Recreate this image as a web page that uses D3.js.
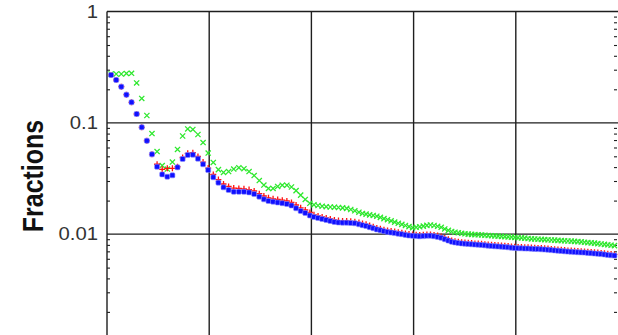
<!DOCTYPE html>
<html>
<head>
<meta charset="utf-8">
<script src="https://cdn.jsdelivr.net/npm/d3@7"></script>
<style>
  body { margin: 0; background: #fff; }
  svg { display: block; }
</style>
</head>
<body>
<svg width="618" height="335" id="mainsvg"></svg>
<script>
// sample positions (shared by all three series)
const xs = [
  0.8, 1.8, 2.8, 3.8, 4.8, 5.8, 6.8, 7.8, 8.8, 9.8, 10.8, 11.8, 12.8, 13.8, 14.8,
  15.8, 16.8, 17.8, 18.8, 19.8, 20.8, 21.8, 22.8, 23.8, 24.8, 25.8, 26.8, 27.8, 28.8, 29.8,
  30.7, 31.6, 32.5, 33.4, 34.3, 35.2, 36.1, 37.0, 37.9, 38.8, 39.7,
  40.5, 41.3, 42.1, 42.9, 43.7, 44.5, 45.3, 46.1, 46.9, 47.7, 48.5, 49.3,
  50.0, 50.7, 51.4, 52.1, 52.8, 53.5, 54.2, 54.9, 55.6, 56.3, 57.0, 57.7, 58.4,
  59.1, 59.8, 60.5, 61.2, 61.9, 62.6, 63.3, 64.0, 64.7, 65.4, 66.1, 66.8,
  67.45, 68.1, 68.75, 69.4, 70.05, 70.7, 71.35, 72.0, 72.65, 73.3, 73.95, 74.6,
  75.25, 75.9, 76.55, 77.2, 77.85, 78.5, 79.15, 79.8, 80.45, 81.1, 81.75, 82.4,
  83.05, 83.7, 84.35, 85.0, 85.65, 86.3, 86.95, 87.6, 88.25, 88.9, 89.55, 90.2,
  90.85, 91.5, 92.15, 92.8, 93.45, 94.1, 94.75, 95.4, 96.05, 96.7, 97.35, 98.0, 98.65, 99.3
];

const greenVals = [
  0.2745, 0.2745, 0.2745, 0.2774, 0.2786, 0.2279, 0.1654, 0.1163, 0.0801, 0.0552,
  0.0413, 0.0384, 0.0444, 0.0576, 0.0761, 0.0880, 0.0871, 0.0785, 0.0665, 0.0535,
  0.0440, 0.0380, 0.0358, 0.0365, 0.0384, 0.0395, 0.0387, 0.0365, 0.0336, 0.0303,
  0.0276, 0.0257, 0.0257, 0.0268, 0.0275, 0.0275, 0.0265, 0.0246, 0.0224, 0.02047, 0.01892,
  0.01834, 0.01807, 0.01781, 0.01763, 0.01752, 0.01745, 0.01734, 0.01720, 0.01702, 0.01664, 0.01620, 0.01573,
  0.01532, 0.01510, 0.01488, 0.01470, 0.01448, 0.01413, 0.01378, 0.01347, 0.01314, 0.01282,
  0.01251, 0.01223, 0.01195, 0.01168, 0.01144, 0.01151, 0.01163, 0.01180, 0.01198, 0.01207,
  0.01195, 0.01175, 0.01151, 0.01112, 0.01080,
  0.01055, 0.01040, 0.01027, 0.01017, 0.01006, 0.01000, 0.00994, 0.00990, 0.00986, 0.00982,
  0.00977, 0.00971, 0.00967, 0.00963, 0.00959, 0.00955, 0.00950, 0.00944, 0.00940, 0.00934,
  0.00928, 0.00924, 0.00919, 0.00913, 0.00907, 0.00904, 0.00900, 0.00896, 0.00892, 0.00889,
  0.00885, 0.00882, 0.00878, 0.00874, 0.00871, 0.00867, 0.00864, 0.00860, 0.00856, 0.00851,
  0.00844, 0.00839, 0.00834, 0.00829, 0.00822, 0.00815, 0.00808, 0.00802, 0.00795, 0.00788
];

const redVals = [
  0.2689, 0.2425, 0.2111, 0.1789, 0.1528, 0.1200, 0.0911, 0.0690, 0.0521, 0.0424,
  0.0382, 0.0390, 0.0390, 0.0403, 0.0488, 0.0532, 0.0539, 0.0498, 0.0444, 0.0392,
  0.0343, 0.0309, 0.0282, 0.0268, 0.0259, 0.0257, 0.0255, 0.0251, 0.0244, 0.0231,
  0.0220, 0.02120, 0.02076, 0.02047, 0.02017, 0.01984, 0.01923, 0.01826, 0.01723, 0.01647, 0.01564,
  0.01491, 0.01454, 0.01425, 0.01395, 0.01367, 0.01339, 0.01322, 0.01314, 0.01311, 0.01303, 0.01293, 0.01269,
  0.01243, 0.01223, 0.01193, 0.01163, 0.01137, 0.01116, 0.01095, 0.01080, 0.01064, 0.01053,
  0.01040, 0.01029, 0.01015, 0.01002, 0.00994, 0.00988, 0.00984, 0.00986, 0.00992, 0.00994,
  0.00984, 0.00969, 0.00952, 0.00924, 0.00898,
  0.00874, 0.00862, 0.00853, 0.00846, 0.00841, 0.00836, 0.00830, 0.00825, 0.00822, 0.00818,
  0.00812, 0.00807, 0.00802, 0.00797, 0.00793, 0.00790, 0.00785, 0.00780, 0.00774, 0.00769,
  0.00766, 0.00764, 0.00761, 0.00760, 0.00757, 0.00755, 0.00752, 0.00749, 0.00745, 0.00741,
  0.00736, 0.00731, 0.00727, 0.00723, 0.00718, 0.00714, 0.00711, 0.00708, 0.00705, 0.00702,
  0.00699, 0.00694, 0.00690, 0.00686, 0.00682, 0.00678, 0.00672, 0.00667, 0.00661, 0.00657
];

const blueVals = [
  0.2689, 0.2425, 0.2111, 0.1789, 0.1528, 0.1200, 0.0911, 0.0690, 0.0521, 0.0403,
  0.0344, 0.0328, 0.0337, 0.0398, 0.0473, 0.0514, 0.0517, 0.0476, 0.0424, 0.0376,
  0.0324, 0.0290, 0.0263, 0.0249, 0.0240, 0.0240, 0.0240, 0.0237, 0.0229, 0.0217,
  0.02055, 0.01984, 0.01955, 0.01923, 0.01896, 0.01864, 0.01807, 0.01706, 0.01613, 0.01548, 0.01470,
  0.01425, 0.01395, 0.01367, 0.01339, 0.01311, 0.01285, 0.01271, 0.01266, 0.01266, 0.01258, 0.01251, 0.01225,
  0.01203, 0.01183, 0.01154, 0.01128, 0.01102, 0.01082, 0.01062, 0.01047, 0.01032, 0.01021,
  0.01008, 0.00998, 0.00984, 0.00971, 0.00965, 0.00959, 0.00955, 0.00959, 0.00965, 0.00967,
  0.00957, 0.00944, 0.00926, 0.00900, 0.00874,
  0.00853, 0.00841, 0.00832, 0.00825, 0.00820, 0.00815, 0.00810, 0.00805, 0.00802, 0.00798,
  0.00792, 0.00787, 0.00782, 0.00777, 0.00774, 0.00771, 0.00766, 0.00761, 0.00755, 0.00750,
  0.00747, 0.00745, 0.00742, 0.00741, 0.00738, 0.00736, 0.00733, 0.00730, 0.00727, 0.00723,
  0.00718, 0.00714, 0.00709, 0.00705, 0.00700, 0.00696, 0.00693, 0.00690, 0.00687, 0.00685,
  0.00682, 0.00678, 0.00674, 0.00669, 0.00665, 0.00661, 0.00656, 0.00650, 0.00645, 0.00641
];

// major decades; only the top three fall inside the visible picture
const yMajor = [1, 0.1, 0.01];
const yLabels = ['1', '0.1', '0.01'];
const xGrid = [0, 20, 40, 60, 80];

const svg = d3.select('svg');
const plotLeft = 107, plotRight = 618, plotTop = 11.5;

const x = d3.scaleLinear().domain([0, 100]).range([plotLeft, plotRight]);
const y = d3.scaleLog().domain([0.001, 1]).range([345.4, plotTop]);

const ink = '#1e1e1e';

// grid lines
svg.append('g').selectAll('line').data(xGrid).join('line')
  .attr('x1', d => x(d)).attr('x2', d => x(d))
  .attr('y1', plotTop).attr('y2', 345)
  .attr('stroke', ink).attr('stroke-width', 1.4);
svg.append('g').selectAll('line').data(yMajor).join('line')
  .attr('x1', plotLeft).attr('x2', plotRight)
  .attr('y1', d => y(d)).attr('y2', d => y(d))
  .attr('stroke', ink).attr('stroke-width', 1.3);

// minor ticks, pointing inwards on both sides
const minor = y.ticks().filter(t => !yMajor.some(m => Math.abs(m - t) < 1e-12));
svg.append('g').attr('transform', `translate(${plotLeft},0)`)
  .call(d3.axisRight(y).tickValues(minor).tickSize(3).tickFormat(''))
  .call(g => g.select('.domain').remove())
  .selectAll('line').attr('stroke', ink).attr('stroke-width', 1.1);
svg.append('g').attr('transform', `translate(${plotRight - 1},0)`)
  .call(d3.axisLeft(y).tickValues(minor).tickSize(3).tickFormat(''))
  .call(g => g.select('.domain').remove())
  .selectAll('line').attr('stroke', ink).attr('stroke-width', 1.1);

// tick labels
svg.append('g').selectAll('text').data(yMajor).join('text')
  .attr('transform', d => `translate(98,${y(d)}) scale(1.16,1)`)
  .attr('text-anchor', 'end').attr('dy', '0.36em')
  .attr('font-family', 'Liberation Sans, Arial, sans-serif')
  .attr('font-size', 17.5).attr('fill', '#333')
  .text((d, i) => yLabels[i]);

svg.append('text')
  .attr('transform', 'translate(43,176) scale(1.2,1) rotate(-90)')
  .attr('text-anchor', 'middle')
  .attr('font-family', 'Liberation Sans, Arial, sans-serif')
  .attr('font-weight', 'bold').attr('font-size', 25).attr('fill', '#111')
  .text('Fractions');

// markers
const pts = vals => xs.map((v, i) => [x(v), y(vals[i])]);

svg.append('g').selectAll('path').data(pts(greenVals)).join('path')
  .attr('d', d => `M${d[0] - 2.6},${d[1] - 2.6}L${d[0] + 2.6},${d[1] + 2.6}M${d[0] - 2.6},${d[1] + 2.6}L${d[0] + 2.6},${d[1] - 2.6}`)
  .attr('stroke', '#2ee82e').attr('stroke-width', 1.3).attr('fill', 'none');

svg.append('g').selectAll('path').data(pts(redVals)).join('path')
  .attr('d', d => `M${d[0] - 3},${d[1]}L${d[0] + 3},${d[1]}M${d[0]},${d[1] - 3}L${d[0]},${d[1] + 3}`)
  .attr('stroke', '#ff1010').attr('stroke-width', 1.3).attr('fill', 'none');

svg.append('g').selectAll('rect').data(pts(blueVals)).join('rect')
  .attr('x', d => d[0] - 2.5).attr('y', d => d[1] - 2.5)
  .attr('width', 5).attr('height', 5).attr('rx', 1.2)
  .attr('fill', '#1010ff').attr('stroke', '#9090ff').attr('stroke-width', 0.6);
</script>
</body>
</html>
